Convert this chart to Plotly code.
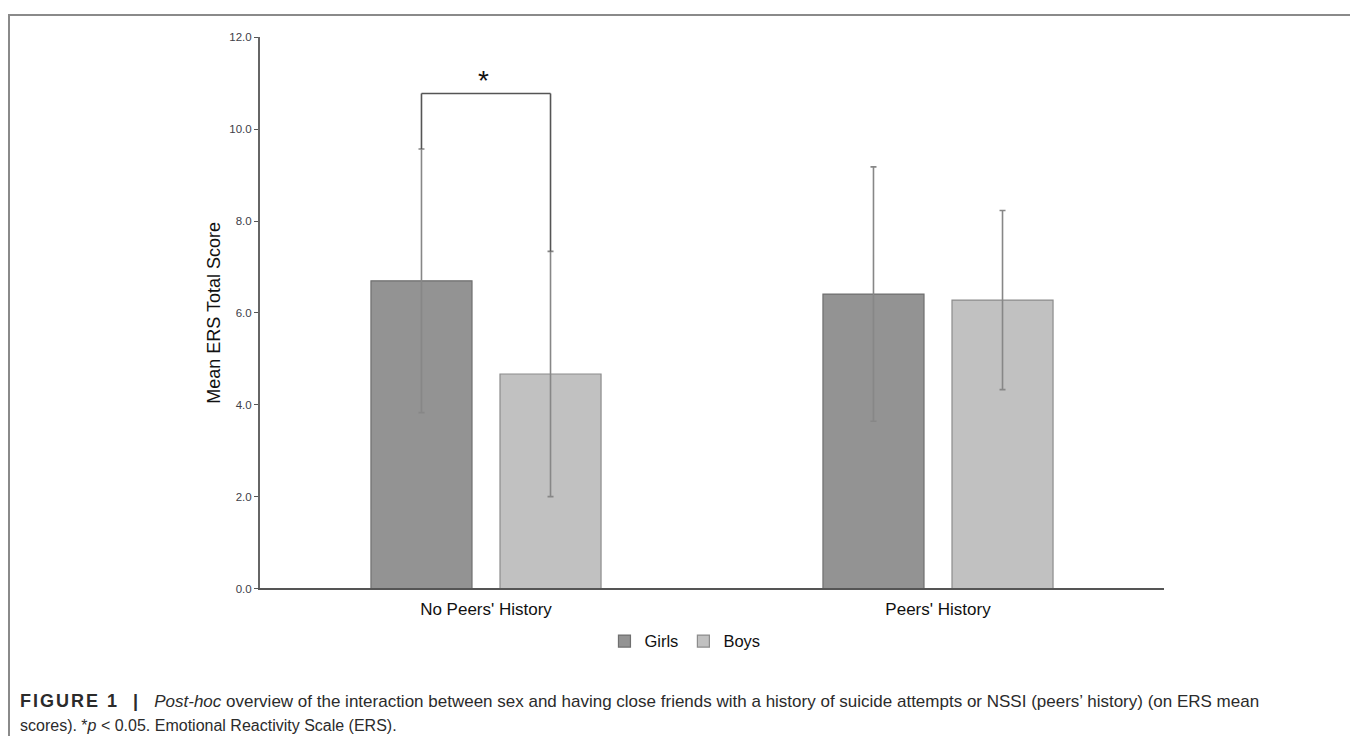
import plotly.graph_objects as go

categories = ["No Peers' History", "Peers' History"]
girls_mean = [6.70, 6.41]
girls_sd = [2.87, 2.77]
boys_mean = [4.67, 6.28]
boys_sd = [2.67, 1.95]
y_ticks = [0, 2, 4, 6, 8, 10, 12]
y_tick_labels = ["0.0", "2.0", "4.0", "6.0", "8.0", "10.0", "12.0"]
bracket_level = 10.78
sig_label = "*"

W, H = 1358, 736
BARGAP = 0.429
BARGROUPGAP = 0.217
FONT = "Liberation Sans, Arial, sans-serif"

fig = go.Figure()
fig.add_trace(go.Bar(
    name="Girls", x=categories, y=girls_mean,
    marker=dict(color="#939393", line=dict(color="#6f6f6f", width=1.2)),
    error_y=dict(type="data", array=girls_sd, visible=True, color="#878787", thickness=1.6, width=3),
))
fig.add_trace(go.Bar(
    name="Boys", x=categories, y=boys_mean,
    marker=dict(color="#c1c1c1", line=dict(color="#8c8c8c", width=1.2)),
    error_y=dict(type="data", array=boys_sd, visible=True, color="#878787", thickness=1.6, width=3),
))

# significance bracket between girls and boys in the first category
slot = (1 - BARGAP) / 2
gx = 0 - slot / 2
bx = 0 + slot / 2
g_top = girls_mean[0] + girls_sd[0]
b_top = boys_mean[0] + boys_sd[0]
line_style = dict(color="#555555", width=1.6)
fig.add_shape(type="line", xref="x", yref="y", x0=gx, x1=gx, y0=g_top, y1=bracket_level, line=line_style)
fig.add_shape(type="line", xref="x", yref="y", x0=bx, x1=bx, y0=b_top, y1=bracket_level, line=line_style)
fig.add_shape(type="line", xref="x", yref="y", x0=gx, x1=bx, y0=bracket_level, y1=bracket_level, line=line_style)
fig.add_annotation(x=0, y=bracket_level, xref="x", yref="y", text=sig_label, showarrow=False,
                   yanchor="bottom", yshift=-5, xshift=-3, font=dict(size=28, color="#111111", family=FONT))

# outer frame
fig.add_shape(type="rect", xref="paper", yref="paper", x0=1 / W, x1=1345.5 / W, y0=-0.02, y1=1 - 1 / H,
              line=dict(color="#8a8a8a", width=2), fillcolor="rgba(0,0,0,0)", layer="below")

# caption
fig.add_annotation(
    xref="paper", yref="paper", x=10 / W, y=1 - 698.6 / H, xanchor="left", yanchor="middle", align="left",
    showarrow=False, font=dict(size=17, color="#2b2b2b", family=FONT),
    text=("<span style='font-size:18px;letter-spacing:2px'><b>FIGURE 1&nbsp;&nbsp;|</b></span>&nbsp;&nbsp;&nbsp;<i>Post-hoc</i> overview of the interaction between sex and having close friends "
          "with a history of suicide attempts or NSSI (peers’ history) (on ERS mean"),
)
fig.add_annotation(
    xref="paper", yref="paper", x=10 / W, y=1 - 723 / H, xanchor="left", yanchor="middle", align="left",
    showarrow=False, font=dict(size=16, color="#2b2b2b", family=FONT),
    text="scores). *<i>p</i> &lt; 0.05. Emotional Reactivity Scale (ERS).",
)

fig.update_layout(
    width=W, height=H,
    margin=dict(l=0, r=0, t=0, b=0),
    paper_bgcolor="white", plot_bgcolor="white",
    barmode="group", bargap=BARGAP, bargroupgap=BARGROUPGAP,
    font=dict(family=FONT, color="#222222"),
    showlegend=True,
    legend=dict(orientation="h", x=0.4985, xanchor="center", y=1 - 637.7 / H, yanchor="middle",
                font=dict(size=16.5, color="#111111"), itemwidth=30, tracegroupgap=0),
    xaxis=dict(domain=[252 / W, 1156 / W], range=[-0.5, 1.5], showline=True, linecolor="#555555", linewidth=1.6,
               ticks="", showgrid=False, tickfont=dict(size=17, color="#111111"), ticklabelstandoff=4),
    yaxis=dict(domain=[1 - 584.0 / H, 1 - 23.8 / H], range=[0, 12], tickvals=y_ticks, ticktext=y_tick_labels,
               showline=True, linecolor="#666666", linewidth=2, ticks="outside", ticklen=4, tickcolor="#555555",
               showgrid=False, zeroline=False, tickfont=dict(size=11.5, color="#404048"),
               title=dict(text="Mean ERS Total Score", font=dict(size=18, color="#111111"), standoff=4)),
)

fig.write_html("out.html")
